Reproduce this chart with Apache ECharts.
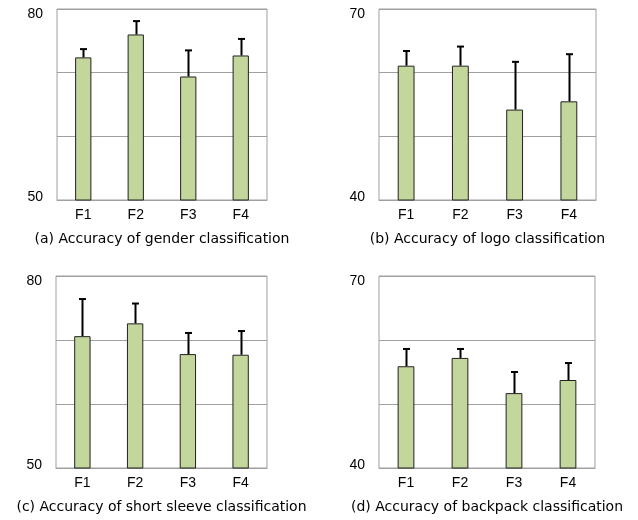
<!DOCTYPE html>
<html>
<head>
<meta charset="utf-8">
<script src="https://cdn.jsdelivr.net/npm/echarts@6/dist/echarts.min.js"></script>
<style>
  html, body { margin: 0; padding: 0; background: #fff; }
  #main { width: 638px; height: 520px; }
</style>
</head>
<body>
<div id="main"></div>
<script>
const categories = ['F1', 'F2', 'F3', 'F4'];

const genderMean = [72.4, 76.0, 69.4, 72.7];
const genderTop = [73.7, 78.1, 73.5, 75.3];
const logoMean = [61.1, 61.1, 54.2, 55.5];
const logoTop = [63.4, 64.1, 61.7, 62.9];
const sleeveMean = [70.6, 72.6, 67.8, 67.7];
const sleeveTop = [76.4, 75.7, 71.1, 71.4];
const backpackMean = [55.9, 57.2, 51.7, 53.75];
const backpackTop = [58.6, 58.6, 55.0, 56.4];

const captions = [
  '(a) Accuracy of gender classification',
  '(b) Accuracy of logo classification',
  '(c) Accuracy of short sleeve classification',
  '(d) Accuracy of backpack classification'
];
const yMins = [50, 40, 50, 40];
const yMaxs = [80, 70, 80, 70];

const panels = [
  { mean: genderMean, top: genderTop },
  { mean: logoMean, top: logoTop },
  { mean: sleeveMean, top: sleeveTop },
  { mean: backpackMean, top: backpackTop }
];

const grids = [
  { left: 57, top: 9, width: 210, height: 191 },
  { left: 379, top: 9, width: 217, height: 191 },
  { left: 56, top: 276, width: 211, height: 192 },
  { left: 379, top: 276, width: 216, height: 192 }
];

const font = '"Liberation Sans", Arial, sans-serif';
const captionFont = '"DejaVu Sans", sans-serif';

const myChart = echarts.init(document.getElementById('main'));

const option = {
  animation: false,
  grid: grids.map(g => ({ ...g, show: true, borderColor: '#a0a0a0', borderWidth: 1, containLabel: false })),
  xAxis: panels.map((p, i) => ({
    type: 'category',
    gridIndex: i,
    data: categories,
    name: captions[i],
    nameLocation: 'middle',
    nameGap: 32,
    nameTextStyle: { fontSize: 14, color: '#000', fontFamily: captionFont },
    axisLine: { lineStyle: { color: '#a0a0a0' } },
    axisTick: { show: false },
    axisLabel: { fontSize: 14, color: '#000', margin: 8, fontFamily: font }
  })),
  yAxis: panels.map((p, i) => ({
    type: 'value',
    gridIndex: i,
    min: yMins[i],
    max: yMaxs[i],
    interval: 10,
    axisLine: { show: false },
    axisTick: { show: false },
    splitLine: { lineStyle: { color: '#a0a0a0', width: 1 } },
    axisLabel: {
      fontSize: 14,
      color: '#000',
      margin: 14,
      fontFamily: font,
      formatter: v => v === yMaxs[i] ? '{hi|' + v + '}' : (v === yMins[i] ? '{lo|' + v + '}' : ''),
      rich: {
        hi: { fontSize: 14, fontFamily: font, padding: [10, 0, 0, 0] },
        lo: { fontSize: 14, fontFamily: font, padding: [0, 0, 6, 0] }
      }
    }
  })),
  series: []
};

panels.forEach((p, i) => {
  option.series.push({
    type: 'bar',
    xAxisIndex: i,
    yAxisIndex: i,
    data: p.mean,
    barWidth: '31%',
    itemStyle: { color: '#c3d69b', borderColor: '#222', borderWidth: 1 },
    z: 2
  });
  // error bars, upper side only
  option.series.push({
    type: 'custom',
    xAxisIndex: i,
    yAxisIndex: i,
    data: p.mean.map((m, k) => [k, m, p.top[k]]),
    z: 3,
    renderItem: (params, api) => {
      const base = api.coord([api.value(0), api.value(1)]);
      const hi = api.coord([api.value(0), api.value(2)]);
      const x = Math.round(base[0]) + 0.5;
      return {
        type: 'group',
        children: [
          {
            type: 'line',
            shape: { x1: x, y1: base[1], x2: x, y2: hi[1] },
            style: { stroke: '#000', lineWidth: 2 }
          },
          {
            type: 'line',
            shape: { x1: x - 3.5, y1: hi[1], x2: x + 3.5, y2: hi[1] },
            style: { stroke: '#000', lineWidth: 2 }
          }
        ]
      };
    }
  });
});

myChart.setOption(option);
</script>
</body>
</html>
